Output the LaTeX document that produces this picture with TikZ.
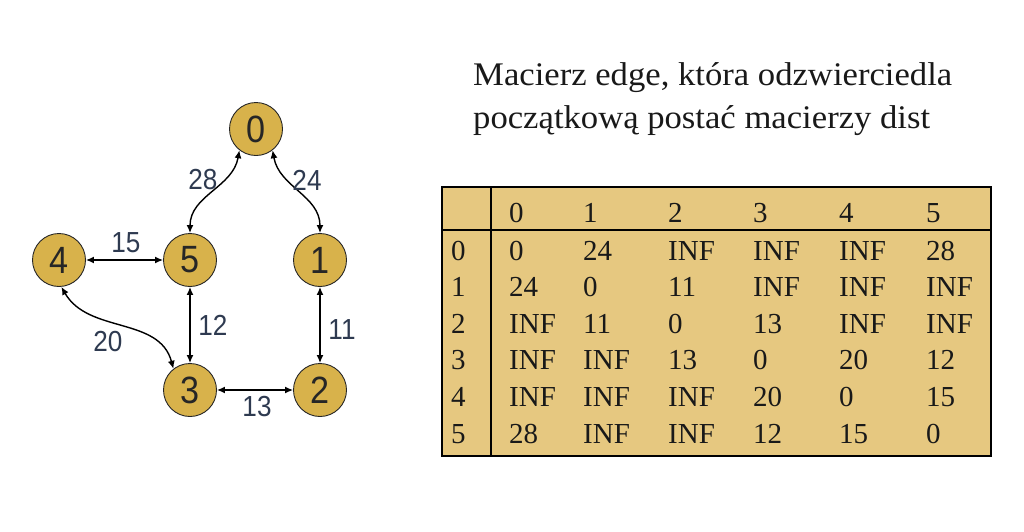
\documentclass[tikz,border=0pt]{standalone}
\usepackage{fontspec}
\setmainfont{Liberation Serif}
\newfontfamily\titlefont{Liberation Serif}[FakeStretch=1.05]
\newfontfamily\tabfont{Liberation Serif}
\newfontfamily\labfont{Liberation Sans}[FakeStretch=0.9]
\usetikzlibrary{arrows.meta}
\definecolor{nodegold}{HTML}{D8B24B}
\definecolor{tabgold}{HTML}{E6C880}
\definecolor{labblue}{HTML}{2E3A50}
\tikzset{
  vert/.style={circle, draw=black!85, line width=0.9pt, fill=nodegold, minimum size=53pt, inner sep=0pt,
    font=\labfont\fontsize{38}{40}\selectfont, text=black!85},
  conn/.style={{Latex[length=8pt,width=7pt]}-{Latex[length=8pt,width=7pt]}, line width=1.4pt, black},
  wlab/.style={font=\labfont\fontsize{29}{30}\selectfont, text=labblue, inner sep=0pt},
  cell/.style={font=\tabfont\fontsize{29}{30}\selectfont, inner sep=0pt, anchor=base west, text=black!90},
  ttl/.style={font=\titlefont\fontsize{33}{40}\selectfont, inner sep=0pt, anchor=base west, text=black!90},
}
\begin{document}
\begin{tikzpicture}[x=1pt,y=-1pt]
\useasboundingbox (0,0) rectangle (1024,531);
\fill[white] (0,0) rectangle (1024,531);
% graph
\node[vert] (n0) at (256,129) {0};
\node[vert] (n5) at (190,260) {5};
\node[vert] (n1) at (320,260) {1};
\node[vert] (n4) at (59,260) {4};
\node[vert] (n3) at (190,390) {3};
\node[vert] (n2) at (320,390) {2};
\draw[conn] (n0.232) to[out=-100,in=90] (n5.north);
\draw[conn] (n0.-52) to[out=-80,in=90] (n1.north);
\draw[conn] (n4) -- (n5);
\draw[conn] (n5) -- (n3);
\draw[conn] (n1) -- (n2);
\draw[conn] (n3) -- (n2);
\draw[conn] (n4.-85) to[out=-60,in=105] (n3.128);
\node[wlab] (l28) at (203,180) {28};
\node[wlab] (l24) at (307,180) {24};
\node[wlab] (l15) at (126,243) {15};
\node[wlab] (l12) at (213,325) {12};
\node[wlab] (l11) at (342,330) {11};
\node[wlab] (l20) at (108,342) {20};
\node[wlab] (l13) at (257,407) {13};
% title
\node[ttl] (t1) at (473,85) {Macierz edge, która odzwierciedla};
\node[ttl] (t2) at (473,128) {początkową postać macierzy dist};
% table
\draw[fill=tabgold, line width=1.3pt] (442,187) rectangle (991,456);
\draw[line width=1.3pt] (491,187) -- (491,456);
\draw[line width=1.3pt] (442,230) -- (991,230);
\def\colx{{451,509,583,668,753,839,926}}
\foreach \c [count=\i from 1] in {0,1,2,3,4,5}
  \node[cell] (h-\c) at ({\colx[\i]},222) {\c};
\foreach \r/\vals [count=\k from 0] in {
  0/{0,24,INF,INF,INF,28},
  1/{24,0,11,INF,INF,INF},
  2/{INF,11,0,13,INF,INF},
  3/{INF,INF,13,0,20,12},
  4/{INF,INF,INF,20,0,15},
  5/{28,INF,INF,12,15,0}} {
  \node[cell] (r-\r) at (451,{260+36.6*\k}) {\r};
  \foreach \v [count=\i from 1] in \vals
    \node[cell] (c-\r-\i) at ({\colx[\i]},{260+36.6*\k}) {\v};
}
\end{tikzpicture}
\end{document}
